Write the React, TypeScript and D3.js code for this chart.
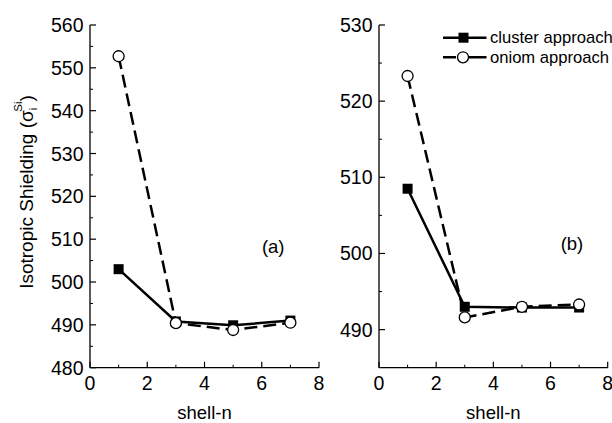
import * as d3 from "d3";
import { useEffect, useRef } from "react";

const shellN = [1, 3, 5, 7];
const clusterA = [503.0, 490.8, 489.9, 491.0];
const oniomA = [552.7, 490.4, 488.8, 490.5];
const clusterB = [508.5, 493.0, 492.9, 492.9];
const oniomB = [523.3, 491.6, 493.0, 493.3];

const xTicks = [0, 2, 4, 6, 8];
const xMinor = [1, 3, 5, 7];
const yTicksA = [480, 490, 500, 510, 520, 530, 540, 550, 560];
const yMinorA = [485, 495, 505, 515, 525, 535, 545, 555];
const yTicksB = [490, 500, 510, 520, 530];
const yMinorB = [495, 505, 515, 525];

const legendLabels = ["cluster approach", "oniom approach"];

const FONT = "'Liberation Sans', Arial, Helvetica, sans-serif";
const W = 612;
const H = 423;

interface PanelConfig {
  left: number;
  right: number;
  yDomain: [number, number];
  yTicks: number[];
  yMinor: number[];
  cluster: number[];
  oniom: number[];
  tag: string;
  tagPos: [number, number];
}

export default function App() {
  const svgRef = useRef<SVGSVGElement>(null);

  useEffect(() => {
    if (!svgRef.current) return;
    const svg = d3.select(svgRef.current);
    svg.selectAll("*").remove();

    const top = 25;
    const bottom = 367.7;

    const panels: PanelConfig[] = [
      {
        left: 90,
        right: 319,
        yDomain: [480, 560],
        yTicks: yTicksA,
        yMinor: yMinorA,
        cluster: clusterA,
        oniom: oniomA,
        tag: "(a)",
        tagPos: [6.4, 506.8],
      },
      {
        left: 379,
        right: 607.7,
        yDomain: [485, 530],
        yTicks: yTicksB,
        yMinor: yMinorB,
        cluster: clusterB,
        oniom: oniomB,
        tag: "(b)",
        tagPos: [6.75, 500.4],
      },
    ];

    for (const p of panels) {
      const x = d3.scaleLinear().domain([0, 8]).range([p.left, p.right]);
      const y = d3.scaleLinear().domain(p.yDomain).range([bottom, top]);
      const g = svg.append("g");

      // axis lines
      g.append("line")
        .attr("x1", p.left)
        .attr("x2", p.left)
        .attr("y1", top)
        .attr("y2", bottom)
        .style("stroke", "#000")
        .style("stroke-width", 1.3);
      g.append("line")
        .attr("x1", p.left)
        .attr("x2", p.right)
        .attr("y1", bottom)
        .attr("y2", bottom)
        .style("stroke", "#000")
        .style("stroke-width", 1.3);

      // x ticks (inward)
      for (const t of xTicks) {
        g.append("line")
          .attr("x1", x(t))
          .attr("x2", x(t))
          .attr("y1", bottom)
          .attr("y2", bottom - 6)
          .style("stroke", "#000")
          .style("stroke-width", 1.2);
        g.append("text")
          .attr("x", x(t))
          .attr("y", bottom + 22)
          .attr("text-anchor", "middle")
          .style("font-family", FONT)
          .style("font-size", "19.5px")
          .text(t);
      }
      for (const t of xMinor) {
        g.append("line")
          .attr("x1", x(t))
          .attr("x2", x(t))
          .attr("y1", bottom)
          .attr("y2", bottom - 3)
          .style("stroke", "#000")
          .style("stroke-width", 1);
      }

      // y ticks (inward)
      for (const t of p.yTicks) {
        g.append("line")
          .attr("x1", p.left)
          .attr("x2", p.left + 6)
          .attr("y1", y(t))
          .attr("y2", y(t))
          .style("stroke", "#000")
          .style("stroke-width", 1.2);
        g.append("text")
          .attr("x", p.left - 6.5)
          .attr("y", y(t) + 7)
          .attr("text-anchor", "end")
          .style("font-family", FONT)
          .style("font-size", "19.5px")
          .text(t);
      }
      for (const t of p.yMinor) {
        g.append("line")
          .attr("x1", p.left)
          .attr("x2", p.left + 3)
          .attr("y1", y(t))
          .attr("y2", y(t))
          .style("stroke", "#000")
          .style("stroke-width", 1);
      }

      // x label
      g.append("text")
        .attr("x", (p.left + p.right) / 2)
        .attr("y", 419)
        .attr("text-anchor", "middle")
        .style("font-family", FONT)
        .style("font-size", "18.5px")
        .text("shell-n");

      // panel tag
      g.append("text")
        .attr("x", x(p.tagPos[0]))
        .attr("y", y(p.tagPos[1]))
        .attr("text-anchor", "middle")
        .style("font-family", FONT)
        .style("font-size", "18.5px")
        .text(p.tag);

      const line = d3
        .line<number>()
        .x((_, i) => x(shellN[i]))
        .y((d) => y(d));

      // cluster series
      g.append("path")
        .datum(p.cluster)
        .attr("d", line)
        .style("fill", "none")
        .style("stroke", "#000")
        .style("stroke-width", 2.5);
      g.selectAll(".sq")
        .data(p.cluster)
        .enter()
        .append("rect")
        .attr("x", (_, i) => x(shellN[i]) - 5)
        .attr("y", (d) => y(d) - 5)
        .attr("width", 10)
        .attr("height", 10)
        .style("fill", "#000");

      // oniom series
      g.append("path")
        .datum(p.oniom)
        .attr("d", line)
        .style("fill", "none")
        .style("stroke", "#000")
        .style("stroke-width", 2.5)
        .style("stroke-dasharray", "13,6");
      g.selectAll(".ci")
        .data(p.oniom)
        .enter()
        .append("circle")
        .attr("cx", (_, i) => x(shellN[i]))
        .attr("cy", (d) => y(d))
        .attr("r", 5.5)
        .style("fill", "#fff")
        .style("stroke", "#000")
        .style("stroke-width", 1.3);
    }

    // y axis label
    const yl = svg
      .append("text")
      .attr("transform", "translate(33,192) rotate(-90)")
      .attr("text-anchor", "middle")
      .style("font-family", FONT)
      .style("font-size", "19px");
    yl.append("tspan").text("Isotropic Shielding (σ");
    yl.append("tspan").attr("dy", 4).style("font-size", "11.5px").text("i");
    yl.append("tspan").attr("dx", -4).attr("dy", -15).style("font-size", "11.5px").text("Si");
    yl.append("tspan").attr("dy", 11).text(")");

    // legend
    const lg = svg.append("g");
    const lx1 = 443;
    const lx2 = 486.5;
    const rows = [37.7, 57.3];
    lg.append("line")
      .attr("x1", lx1)
      .attr("x2", lx2)
      .attr("y1", rows[0])
      .attr("y2", rows[0])
      .style("stroke", "#000")
      .style("stroke-width", 2.5);
    lg.append("rect")
      .attr("x", 463.5 - 5)
      .attr("y", rows[0] - 5)
      .attr("width", 10)
      .attr("height", 10)
      .style("fill", "#000");
    lg.append("line")
      .attr("x1", lx1)
      .attr("x2", lx2)
      .attr("y1", rows[1])
      .attr("y2", rows[1])
      .style("stroke", "#000")
      .style("stroke-width", 2.5)
      .style("stroke-dasharray", "13,12,30");
    lg.append("circle")
      .attr("cx", 463)
      .attr("cy", rows[1])
      .attr("r", 5.5)
      .style("fill", "#fff")
      .style("stroke", "#000")
      .style("stroke-width", 1.3);
    legendLabels.forEach((label, i) => {
      lg.append("text")
        .attr("x", 490)
        .attr("y", rows[i] + 5.5)
        .style("font-family", FONT)
        .style("font-size", "16.6px")
        .text(label);
    });
  }, []);

  return (
    <svg
      ref={svgRef}
      width={W}
      height={H}
      style={{ position: "absolute", left: 0, top: 0, background: "#fff" }}
    />
  );
}
